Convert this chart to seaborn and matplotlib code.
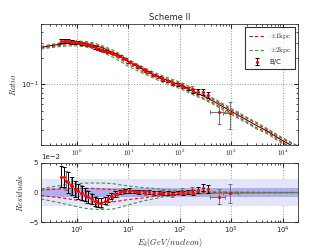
import matplotlib
matplotlib.use("Agg")
import matplotlib.pyplot as plt
import pandas as pd
import seaborn as sns
from matplotlib.ticker import NullFormatter, FixedLocator

# model curves, knots
energy = [0.2, 0.3, 0.5, 0.7, 1, 1.5, 2, 3, 5, 7, 10, 20, 30, 50, 100, 200,
          300, 500, 1000, 2000, 3000, 5000, 1e4, 2e4]
ratio_best = [0.268, 0.280, 0.293, 0.300, 0.303, 0.298, 0.288, 0.268, 0.235,
              0.210, 0.183, 0.148, 0.131, 0.115, 0.099, 0.081, 0.073, 0.062,
              0.049, 0.039, 0.034, 0.029, 0.0225, 0.018]
ratio_2kpc_up = [0.274, 0.289, 0.305, 0.314, 0.318, 0.314, 0.304, 0.284, 0.250,
                 0.224, 0.195, 0.158, 0.140, 0.124, 0.107, 0.088, 0.079, 0.067,
                 0.053, 0.042, 0.037, 0.031, 0.0243, 0.0195]
ratio_2kpc_dn = [0.257, 0.266, 0.275, 0.279, 0.279, 0.271, 0.260, 0.239, 0.207,
                 0.185, 0.162, 0.133, 0.119, 0.104, 0.090, 0.074, 0.067, 0.057,
                 0.045, 0.036, 0.031, 0.027, 0.0207, 0.0166]
ratio_1kpc_up = [0.272, 0.285, 0.299, 0.307, 0.310, 0.305, 0.295, 0.274, 0.240,
                 0.214, 0.187, 0.152, 0.135, 0.119, 0.103, 0.084, 0.076, 0.065,
                 0.051, 0.041, 0.036, 0.030, 0.0236, 0.019]
ratio_1kpc_dn = [0.263, 0.273, 0.284, 0.289, 0.290, 0.283, 0.272, 0.251, 0.219,
                 0.196, 0.171, 0.139, 0.124, 0.109, 0.094, 0.077, 0.069, 0.059,
                 0.047, 0.037, 0.032, 0.028, 0.0214, 0.017]

# residual curves (model - best fit)
res_2kpc_up = [0.006, 0.009, 0.012, 0.014, 0.015, 0.016, 0.016, 0.016, 0.015,
               0.013, 0.011, 0.008, 0.007, 0.005, 0.003, 0.002, 0.0015, 0.001,
               0.0008, 0.0005, 0.0004, 0.0003, 0.0002, 0.0001]
res_2kpc_dn = [-0.011, -0.014, -0.018, -0.021, -0.024, -0.027, -0.028, -0.029,
               -0.028, -0.025, -0.021, -0.014, -0.011, -0.007, -0.004, -0.0025,
               -0.002, -0.0015, -0.001, -0.0008, -0.0006, -0.0005, -0.0003, -0.0002]
res_1kpc_up = [0.004, 0.005, 0.006, 0.007, 0.007, 0.007, 0.007, 0.006, 0.005,
               0.004, 0.003, 0.002, 0.0015, 0.001, 0.0008, 0.0005, 0.0004, 0.0003,
               0.0002, 0.0001, 0.0001, 0.0, 0.0, 0.0]
res_1kpc_dn = [-0.005, -0.007, -0.009, -0.011, -0.013, -0.015, -0.016, -0.017,
               -0.016, -0.014, -0.012, -0.009, -0.007, -0.005, -0.003, -0.002,
               -0.0015, -0.001, -0.0008, -0.0006, -0.0005, -0.0004, -0.0003, -0.0002]

# B/C data set 1 (black error bars)
e_a = [0.48, 0.56, 0.68, 0.79, 0.91, 1.06, 1.23, 1.43, 1.66, 1.93, 2.24, 2.6,
       3.0, 3.5, 4.05, 4.7, 5.5, 6.8, 8.5, 10.5, 13, 16, 20, 25, 31, 39, 48, 60,
       75, 93, 116, 145, 180, 225, 280, 350]
bc_a = [0.319, 0.321, 0.316, 0.312, 0.308, 0.304, 0.299, 0.294, 0.286, 0.278,
        0.268, 0.259, 0.251, 0.245, 0.239, 0.234, 0.228, 0.213, 0.199, 0.183,
        0.171, 0.159, 0.150, 0.140, 0.129, 0.122, 0.114, 0.109, 0.102, 0.100,
        0.094, 0.090, 0.084, 0.083, 0.082, 0.076]
res_a = [0.027, 0.026, 0.017, 0.0115, 0.006, 0.002, -0.001, -0.004, -0.008,
         -0.011, -0.015, -0.017, -0.017, -0.014, -0.010, -0.006, -0.002, 0.001,
         0.0025, 0.003, 0.002, 0.001, 0.002, 0.001, -0.001, 0.0, -0.002, -0.001,
         -0.002, 0.0, -0.001, 0.001, 0.0, 0.004, 0.008, 0.006]
err_a = [0.018, 0.017, 0.017, 0.015, 0.014, 0.013, 0.012, 0.011, 0.010, 0.009,
         0.008, 0.008, 0.007, 0.006, 0.006, 0.005, 0.005, 0.004, 0.004, 0.004,
         0.003, 0.003, 0.003, 0.003, 0.003, 0.003, 0.003, 0.003, 0.003, 0.003,
         0.003, 0.004, 0.004, 0.005, 0.006, 0.007]

# B/C data set 2 (grey error bars)
e_b = [0.6, 0.75, 0.95, 1.2, 1.5, 1.9, 2.4, 3.0, 3.8, 4.8, 6, 8, 11, 15, 21,
       30, 45, 70, 110, 170, 570, 950]
bc_b = [0.316, 0.312, 0.308, 0.300, 0.291, 0.280, 0.265, 0.250, 0.239, 0.230,
        0.220, 0.202, 0.181, 0.162, 0.145, 0.129, 0.118, 0.103, 0.098, 0.089,
        0.048, 0.047]
res_b = [0.020, 0.012, 0.006, 0.0, -0.006, -0.010, -0.015, -0.018, -0.014,
         -0.008, -0.002, 0.002, 0.003, 0.001, -0.001, -0.002, 0.0, -0.003,
         0.002, 0.004, -0.007, -0.001]
err_b = [0.016, 0.015, 0.013, 0.012, 0.011, 0.010, 0.009, 0.008, 0.007, 0.006,
         0.005, 0.005, 0.004, 0.004, 0.004, 0.004, 0.004, 0.005, 0.005, 0.006,
         0.013, 0.016]
xlo_b = [0, 0, 0, 0, 0, 0, 0, 0, 0, 0, 0, 0, 0, 0, 0, 0, 0, 0, 0, 0, 180, 250]
xhi_b = [0, 0, 0, 0, 0, 0, 0, 0, 0, 0, 0, 0, 0, 0, 0, 0, 0, 0, 0, 0, 190, 420]

# x tick labels of the upper panel
top_ticks = [1, 10, 100, 1000, 10000]
top_tick_labels = [r"$10^{0}$", r"$10^{1}$", r"$10^{2}$", r"$10^{3}$", r"$10^{4}$"]

sns.set_style("ticks")
plt.rcParams.update({
    "font.family": ["DejaVu Sans"],
    "mathtext.fontset": "cm",
    "font.size": 5,
    "xtick.direction": "in", "ytick.direction": "in",
    "xtick.top": True, "ytick.right": True,
    "xtick.major.size": 3, "ytick.major.size": 3,
    "xtick.minor.size": 1.5, "ytick.minor.size": 1.5,
    "xtick.major.pad": 2, "ytick.major.pad": 2,
    "xtick.labelsize": 5, "ytick.labelsize": 5,
    "axes.linewidth": 0.6, "axes.edgecolor": "0.2",
})

curves = pd.DataFrame({"E": energy, "best": ratio_best,
                       "g_up": ratio_2kpc_up, "g_dn": ratio_2kpc_dn,
                       "r_up": ratio_1kpc_up, "r_dn": ratio_1kpc_dn,
                       "rg_up": res_2kpc_up, "rg_dn": res_2kpc_dn,
                       "rr_up": res_1kpc_up, "rr_dn": res_1kpc_dn})

fig = plt.figure(figsize=(3.32, 2.49), dpi=100)
ax2 = fig.add_axes([0.1235, 0.1084, 0.7741, 0.2370])
ax1 = fig.add_axes([0.1235, 0.4177, 0.7741, 0.4859])

green = "#3a9a3a"
dash = (3, 2)
# top panel
sns.lineplot(data=curves, x="E", y="best", color="k", lw=0.7, ax=ax1)
sns.lineplot(data=curves, x="E", y="r_up", color="r", lw=0.8, ax=ax1,
             label=r"$\pm1\mathrm{kpc}$").lines[-1].set_dashes(dash)
sns.lineplot(data=curves, x="E", y="r_dn", color="r", lw=0.8, ax=ax1).lines[-1].set_dashes(dash)
sns.lineplot(data=curves, x="E", y="g_up", color=green, lw=0.8, ax=ax1,
             label=r"$\pm2\mathrm{kpc}$").lines[-1].set_dashes(dash)
sns.lineplot(data=curves, x="E", y="g_dn", color=green, lw=0.8, ax=ax1).lines[-1].set_dashes(dash)
ax1.errorbar(e_b, bc_b, yerr=err_b, xerr=[xlo_b, xhi_b], fmt=".", color="r",
             ms=2.5, ecolor="0.45", elinewidth=0.7, capsize=1.5, capthick=0.7)
ax1.errorbar(e_a, bc_a, yerr=err_a, fmt=".", color="r", ms=2.5, ecolor="k",
             elinewidth=0.7, capsize=1.5, capthick=0.7, label="B/C")

ax1.set_xscale("log")
ax1.set_yscale("log")
ax1.set_xlim(0.2, 2e4)
ax1.set_ylim(0.02, 0.5)
ax1.yaxis.set_minor_formatter(NullFormatter())
ax1.tick_params(axis="x", which="both", labelbottom=False)
xt = ax1.get_xaxis_transform()
for v, lab in zip(top_ticks, top_tick_labels):
    ax1.text(v, -0.025, lab, transform=xt, ha="center", va="top",
             fontsize=5, color=".15", clip_on=False, zorder=10)
ax1.set_xlabel("")
ax1.set_ylabel(r"$Ratio$", fontsize=6, labelpad=2)
ax1.set_title("Scheme II", fontsize=6, pad=3)
ax1.grid(True, which="major", ls=":", color="0.6", lw=0.7)
leg = ax1.legend(loc="upper right", fontsize=5, frameon=True, fancybox=False,
                 edgecolor="k", handlelength=2.2, borderpad=0.5, labelspacing=0.6)
leg.get_frame().set_linewidth(0.8)

# residual panel
ax2.axhspan(-0.023, 0.023, color="#e4e4fb", lw=0)
ax2.axhspan(-0.008, 0.008, color="#aeaef0", lw=0)
for col, c in [("rr_up", "r"), ("rr_dn", "r"), ("rg_up", green), ("rg_dn", green)]:
    sns.lineplot(data=curves, x="E", y=col, color=c, lw=0.8, ax=ax2).lines[-1].set_dashes(dash)
ax2.errorbar(e_b, res_b, yerr=err_b, xerr=[xlo_b, xhi_b], fmt=".", color="r",
             ms=2.5, ecolor="0.45", elinewidth=0.7, capsize=1.5, capthick=0.7)
ax2.errorbar(e_a, res_a, yerr=err_a, fmt=".", color="r", ms=2.5, ecolor="k",
             elinewidth=0.7, capsize=1.5, capthick=0.7)
ax2.set_xscale("log")
ax2.set_xlim(0.2, 2e4)
ax2.set_ylim(-0.05, 0.05)
ax2.yaxis.set_major_locator(FixedLocator([-0.05, 0, 0.05]))
ax2.ticklabel_format(axis="y", style="sci", scilimits=(0, 0))
ax2.yaxis.get_offset_text().set_fontsize(5)
ax2.set_xlabel(r"$E_k(GeV/nucleon)$", fontsize=6, labelpad=0)
ax2.set_ylabel(r"$Residuals$", fontsize=6, labelpad=2)
ax2.grid(True, which="major", axis="x", ls=":", color="0.6", lw=0.7)

fig.savefig("out.png", dpi=100, facecolor="white")
